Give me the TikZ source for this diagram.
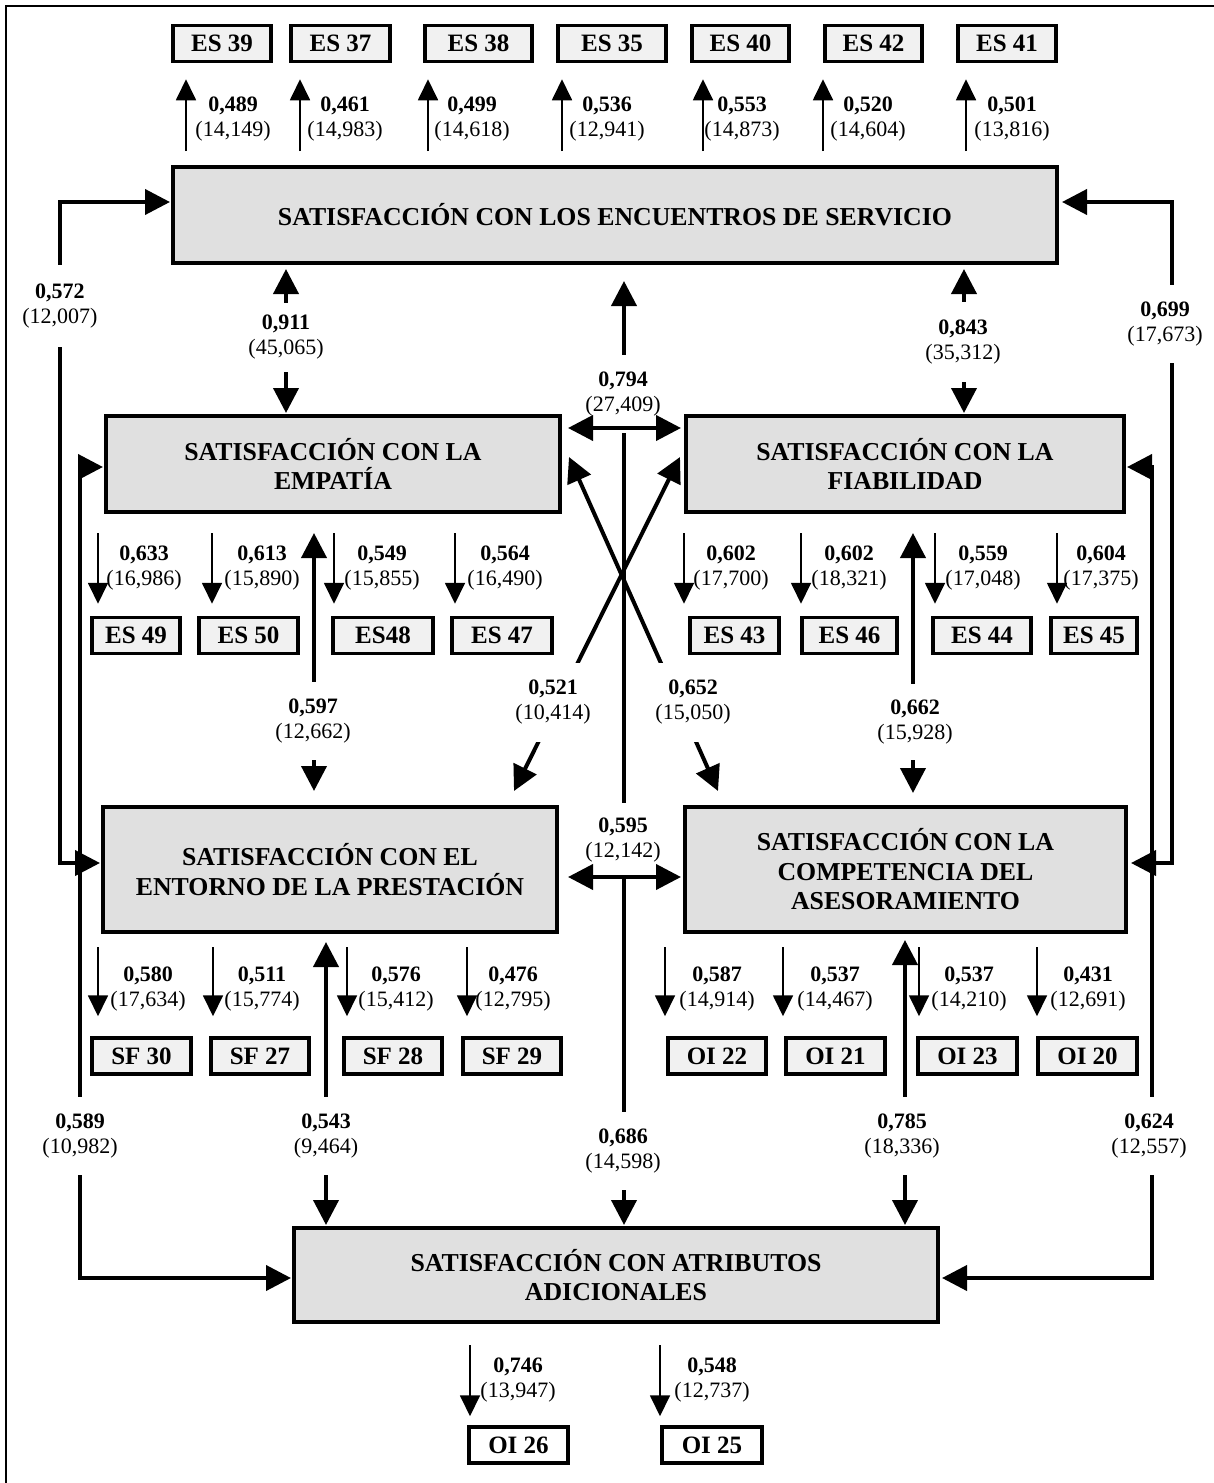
\documentclass[tikz,border=0pt]{standalone}
\usepackage{fontspec}
\setmainfont{Liberation Serif}
\usetikzlibrary{arrows.meta,calc}
\definecolor{boxgray}{RGB}{224,224,224}
\definecolor{indgray}{RGB}{241,241,241}
% two-line coefficient label: estimate in bold, t value in parentheses
\newcommand\coef[2]{{\bfseries #1}\\(#2)}

\begin{document}
\begin{tikzpicture}[x=1pt,y=-1pt,
  construct/.style={draw, line width=4pt, fill=boxgray, align=center, inner sep=0pt,
    font=\bfseries\fontsize{25.8}{29.5}\selectfont},
  item/.style={draw, line width=3.5pt, fill=indgray, inner sep=0pt, minimum height=36pt,
    font=\bfseries\fontsize{25}{28}\selectfont},
  coefl/.style={align=center, inner sep=0pt, font=\fontsize{22}{25}\selectfont},
  cut/.style={coefl, fill=white, inner xsep=4pt},
  load/.style={line width=1.8pt, -{Triangle[length=21pt,width=20pt]}},
  both/.style={line width=4pt, {Triangle[length=25pt,width=25pt]}-{Triangle[length=25pt,width=25pt]}}
]
\useasboundingbox (0,0) rectangle (1214,1483);
\draw[line width=2pt] (6,1483) -- (6,6) -- (1214,6);

% latent constructs
\node[construct, minimum width=884pt, minimum height=96pt] (SE) at (615,215) {SATISFACCIÓN CON LOS ENCUENTROS DE SERVICIO};
\node[construct, minimum width=454pt, minimum height=96pt] (EMP) at (333,464) {SATISFACCIÓN CON LA\\EMPATÍA};
\node[construct, minimum width=438pt, minimum height=96pt] (FIA) at (905,464) {SATISFACCIÓN CON LA\\FIABILIDAD};
\node[construct, minimum width=454pt, minimum height=125pt] (ENT) at (330,869.5) {SATISFACCIÓN CON EL\\ENTORNO DE LA PRESTACIÓN};
\node[construct, minimum width=441pt, minimum height=125pt] (COMP) at (905.5,869.5) {SATISFACCIÓN CON LA\\COMPETENCIA DEL\\ASESORAMIENTO};
\node[construct, minimum width=644pt, minimum height=94pt] (ATR) at (616,1275) {SATISFACCIÓN CON ATRIBUTOS\\ADICIONALES};

% indicators of the service-encounter construct
\node[item, minimum width=98pt] (ES39) at (222,43.5) {ES 39};
\node[item, minimum width=99pt] (ES37) at (340.5,43.5) {ES 37};
\node[item, minimum width=107pt] (ES38) at (478.5,43.5) {ES 38};
\node[item, minimum width=108pt] (ES35) at (612,43.5) {ES 35};
\node[item, minimum width=97pt] (ES40) at (740.5,43.5) {ES 40};
\node[item, minimum width=97pt] (ES42) at (873.5,43.5) {ES 42};
\node[item, minimum width=98pt] (ES41) at (1007,43.5) {ES 41};

\foreach \n/\x/\lx/\a/\b in {ES39/186/233/{0,489}/{14,149}, ES37/300/345/{0,461}/{14,983},
    ES38/428/472/{0,499}/{14,618}, ES35/562/607/{0,536}/{12,941}, ES40/703/742/{0,553}/{14,873},
    ES42/823/868/{0,520}/{14,604}, ES41/966/1012/{0,501}/{13,816}}{
  \draw[load, shorten <=14pt, shorten >=16pt] (SE.north -| \x,0) -- (\n.south -| \x,0);
  \node[coefl] at (\lx,119) {\coef{\a}{\b}};
}

% indicators of empathy
\node[item, minimum width=88pt] (ES49) at (136,635.5) {ES 49};
\node[item, minimum width=99pt] (ES50) at (248.5,635.5) {ES 50};
\node[item, minimum width=100pt] (ES48) at (383,635.5) {ES48};
\node[item, minimum width=100pt] (ES47) at (502,635.5) {ES 47};
% indicators of reliability
\node[item, minimum width=89pt] (ES43) at (734.5,635.5) {ES 43};
\node[item, minimum width=95pt] (ES46) at (849.5,635.5) {ES 46};
\node[item, minimum width=98pt] (ES44) at (982,635.5) {ES 44};
\node[item, minimum width=86pt] (ES45) at (1094,635.5) {ES 45};

\foreach \s/\n/\x/\lx/\a/\b in {EMP/ES49/98/144/{0,633}/{16,986}, EMP/ES50/212/262/{0,613}/{15,890},
    EMP/ES48/334/382/{0,549}/{15,855}, EMP/ES47/455/505/{0,564}/{16,490},
    FIA/ES43/684/731/{0,602}/{17,700}, FIA/ES46/801/849/{0,602}/{18,321},
    FIA/ES44/935/983/{0,559}/{17,048}, FIA/ES45/1057/1101/{0,604}/{17,375}}{
  \draw[load, shorten <=19pt, shorten >=12pt] (\s.south -| \x,0) -- (\n.north -| \x,0);
  \node[coefl] at (\lx,568) {\coef{\a}{\b}};
}

% indicators of the service setting and of advice competence
\node[item, minimum width=99pt] (SF30) at (141.5,1056) {SF 30};
\node[item, minimum width=98pt] (SF27) at (260,1056) {SF 27};
\node[item, minimum width=98pt] (SF28) at (393,1056) {SF 28};
\node[item, minimum width=98pt] (SF29) at (512,1056) {SF 29};
\node[item, minimum width=98pt] (OI22) at (717,1056) {OI 22};
\node[item, minimum width=99pt] (OI21) at (835.5,1056) {OI 21};
\node[item, minimum width=99pt] (OI23) at (967.5,1056) {OI 23};
\node[item, minimum width=99pt] (OI20) at (1087.5,1056) {OI 20};

\foreach \s/\n/\x/\lx/\a/\b in {ENT/SF30/98/148/{0,580}/{17,634}, ENT/SF27/213/262/{0,511}/{15,774},
    ENT/SF28/347/396/{0,576}/{15,412}, ENT/SF29/467/513/{0,476}/{12,795},
    COMP/OI22/665/717/{0,587}/{14,914}, COMP/OI21/783/835/{0,537}/{14,467},
    COMP/OI23/919/969/{0,537}/{14,210}, COMP/OI20/1037/1088/{0,431}/{12,691}}{
  \draw[load, shorten <=13pt, shorten >=20pt] (\s.south -| \x,0) -- (\n.north -| \x,0);
  \node[coefl] at (\lx,989) {\coef{\a}{\b}};
}

% indicators of additional attributes
\node[item, fill=white, minimum width=99pt] (OI26) at (518.5,1445) {OI 26};
\node[item, fill=white, minimum width=100pt] (OI25) at (712,1445) {OI 25};
\draw[load, shorten <=21pt, shorten >=9pt] (ATR.south -| 470,0) -- (OI26.north -| 470,0);
\draw[load, shorten <=21pt, shorten >=9pt] (ATR.south -| 660,0) -- (OI25.north -| 660,0);
\node[coefl] at (518,1380.5) {\coef{0,746}{13,947}};
\node[coefl] at (712,1380.5) {\coef{0,548}{12,737}};

% structural paths between constructs
\draw[both, shorten <=4pt, shorten >=1pt] (SE.south -| 286,0) -- (EMP.north -| 286,0);
\draw[both, shorten <=4pt, shorten >=1pt] (SE.south -| 964,0) -- (FIA.north -| 964,0);
\draw[both, shorten <=16pt, shorten >=1pt] (SE.south -| 624,0) -- (ATR.north -| 624,0);
\draw[both, shorten <=19pt, shorten >=14pt] (EMP.south -| 314,0) -- (ENT.north -| 314,0);
\draw[both, shorten <=19pt, shorten >=12pt] (FIA.south -| 913,0) -- (COMP.north -| 913,0);
\draw[both, shorten <=8pt, shorten >=1pt] (ENT.south -| 326,0) -- (ATR.north -| 326,0);
\draw[both, shorten <=6pt, shorten >=1pt] (COMP.south -| 905,0) -- (ATR.north -| 905,0);
\draw[both] ($(ENT.north east)+(-45,-14)$) -- ($(FIA.west)+(-4,-7)$);
\draw[both] ($(EMP.east)+(7,-7)$) -- ($(COMP.north west)+(35,-14)$);
\draw[both, shorten <=1pt, shorten >=1pt] (ENT.west |- 0,863) -- (60,863) -- (60,202) -- (SE.west |- 0,202);
\draw[both, shorten <=3pt, shorten >=3pt] (SE.east |- 0,202) -- (1172,202) -- (1172,863) -- (COMP.east |- 0,863);
\draw[both, shorten <=1pt, shorten >=1pt] (EMP.west |- 0,467) -- (80,467) -- (80,1278) -- (ATR.west |- 0,1278);
\draw[both, shorten <=1pt, shorten >=2pt] (FIA.east |- 0,467) -- (1152,467) -- (1152,1278) -- (ATR.east |- 0,1278);

% coefficients set into the paths
\node[cut, minimum height=69pt] at (286,337.5) {\coef{0,911}{45,065}};
\node[cut, minimum height=80pt] at (963,342) {\coef{0,843}{35,312}};
\node[cut, minimum height=78pt] at (623,394) {\coef{0,794}{27,409}};
\node[cut, minimum height=74pt] at (623,840) {\coef{0,595}{12,142}};
\node[cut, minimum height=78pt] at (623,1151) {\coef{0,686}{14,598}};
\node[cut, minimum height=78pt] at (313,721) {\coef{0,597}{12,662}};
\node[cut, minimum height=76pt] at (915,722) {\coef{0,662}{15,928}};
\node[cut, minimum height=78pt] at (326,1136) {\coef{0,543}{9,464}};
\node[cut, minimum height=78pt] at (902,1136) {\coef{0,785}{18,336}};
\node[cut, minimum height=79pt] at (553,702.5) {\coef{0,521}{10,414}};
\node[cut, minimum height=79pt] at (693,702.5) {\coef{0,652}{15,050}};
\node[cut, minimum height=82pt] at (60,306) {\coef{0,572}{12,007}};
\node[cut, minimum height=78pt] at (1165,324) {\coef{0,699}{17,673}};
\node[cut, minimum height=78pt] at (80,1136) {\coef{0,589}{10,982}};
\node[cut, minimum height=78pt] at (1149,1136) {\coef{0,624}{12,557}};

% correlations drawn over the central line
\draw[both, shorten <=6pt, shorten >=3pt] (EMP.east |- 0,428) -- (FIA.west |- 0,428);
\draw[both, shorten <=9pt, shorten >=2pt] (ENT.east |- 0,877) -- (COMP.west |- 0,877);
\end{tikzpicture}
\end{document}
